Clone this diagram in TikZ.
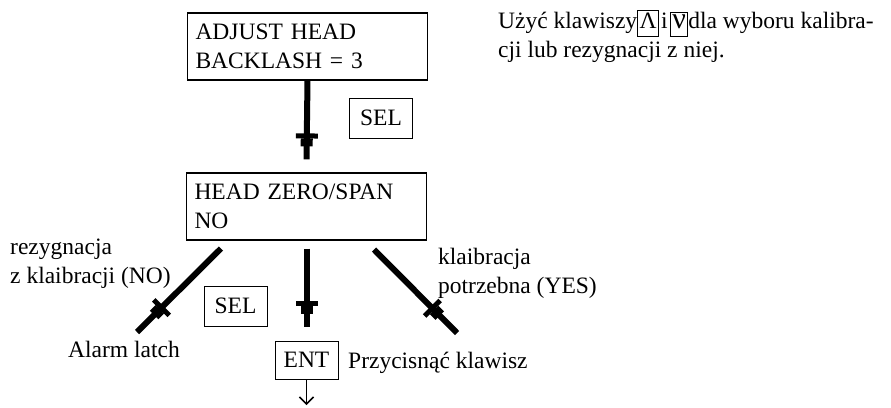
\documentclass[tikz,border=0pt]{standalone}
\usepackage{fontspec}
\setmainfont{Liberation Serif}
\usepackage{tikz}
\usetikzlibrary{arrows.meta, decorations.markings}
\tikzset{>=latex}
\newcommand*{\klaw}[1]{{\setlength{\fboxsep}{1.5pt}\setlength{\fboxrule}{1pt}\fbox{\rule[-6pt]{0pt}{20pt}#1}}}
\tikzset{
    ekran/.style={draw, line width=1.2pt, text width=224pt, inner xsep=8pt,
        minimum height=67pt, align=left},
    klawisz/.style={draw, line width=1pt, minimum width=63pt, minimum height=40pt, inner sep=0pt},
    tekst/.style={inner sep=0pt, align=left},
    krok/.style={line width=6pt, postaction={decorate}, decoration={markings,
        mark=at position #1 with {\fill (-7pt,-11pt) rectangle (-2pt,11pt);
            \fill (-2pt,-6pt) rectangle (6pt,6pt);}}},
    krok/.default=-19pt
}

\begin{document}
\begin{tikzpicture}[x=1pt, y=-1pt, font=\fontsize{23.5pt}{28.5pt}\selectfont]
    \useasboundingbox (0,0) rectangle (891,407);
    % menu screens
    \node[ekran](adj)at(307.5, 46.5){ADJUST HEAD\\BACKLASH = 3};
    \node[ekran](zero)at(306.5, 206.5){HEAD ZERO/SPAN\\NO};
    % keys
    \node[klawisz](sel1)at(381, 118){SEL};
    \node[klawisz](sel2)at(235.5, 306){SEL};
    \node[klawisz, minimum height=38pt](ent)at(306.5, 360){ENT};
    % free ends
    \coordinate(alarmend)at(137, 332);
    \coordinate(takend)at(457, 333);
    \coordinate(dalej)at(306.5, 405);
    % steps
    \draw[krok](adj.south)--([yshift=13pt]zero.north);
    \draw[krok=-30pt]([shift={(35,8)}]zero.south west)--(alarmend);
    \draw[krok]([yshift=-8pt]zero.south)--([yshift=14pt]ent.north);
    \draw[krok=-30pt]([shift={(-53,9)}]zero.south east)--(takend);
    \draw[line width=1.5pt, -{Straight Barb[length=7pt, width=14pt]}](ent)--(dalej);
    % labels (base = last line)
    \node[tekst, anchor=base west](rez)at(10, 283){rezygnacja\\z klaibracji (NO)};
    \node[tekst, anchor=base west](alarm)at(68, 357){Alarm latch};
    \node[tekst, anchor=base west](tak)at(438, 293){klaibracja\\potrzebna (YES)};
    \node[tekst, anchor=base west](przyc)at(348, 368){Przycisnąć klawisz};
    \node[tekst, anchor=base west](opis)at(498, 57){Użyć klawiszy\klaw{Λ}\kern2pt i\kern2pt\klaw{{\fontsize{30pt}{30pt}\selectfont ν}}dla wyboru kalibra-\\cji lub rezygnacji z niej.};
\end{tikzpicture}
\end{document}
